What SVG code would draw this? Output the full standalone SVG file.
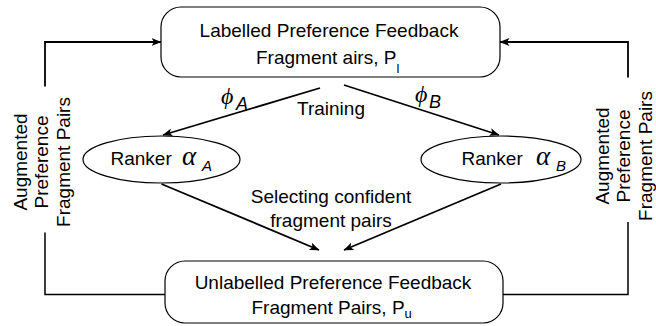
<svg xmlns="http://www.w3.org/2000/svg" width="656" height="326" viewBox="0 0 656 326">
<defs>
<marker id="arr" viewBox="0 0 10 8" refX="9.5" refY="4" markerWidth="10" markerHeight="8" markerUnits="userSpaceOnUse" orient="auto">
<path d="M0,0 L10,4 L0,8 L2.5,4 z" fill="#000"/>
</marker>
<style>
.box{fill:#fff;stroke:#000;stroke-width:1.2}
.t{font-family:"Liberation Sans",Arial,sans-serif;font-size:19px;fill:#000}
.g{font-family:"Liberation Serif","DejaVu Serif",serif;font-style:italic;fill:#000}
.s{font-family:"Liberation Sans",Arial,sans-serif;font-style:italic;fill:#000}
.c{fill:none;stroke:#000;stroke-width:1.5}
.a{fill:none;stroke:#000;stroke-width:1.8;marker-end:url(#arr)}
</style>
</defs>
<rect width="656" height="326" fill="#fff"/>
<g id="connectors">
<polyline class="c" points="165,294.5 45,294.5 45,232.5"/>
<polyline class="a" points="45,86.5 45,42 161,42"/>
<polyline class="c" points="503,294.5 628,294.5 628,222"/>
<polyline class="a" points="628,77.5 628,42 500,42"/>
<line class="a" x1="320" y1="88" x2="163" y2="135"/>
<line class="a" x1="344" y1="85" x2="499" y2="135"/>
<line class="a" x1="161.5" y1="184" x2="319" y2="250"/>
<line class="a" x1="501" y1="184" x2="344" y2="250"/>
</g>
<g id="labels">
<text class="t" text-anchor="middle" transform="translate(0,162) rotate(-90)"><tspan x="0" y="26.5">Augmented</tspan><tspan x="0" y="48">Preference</tspan><tspan x="0" y="69.5">Fragment Pairs</tspan></text>
<text class="t" text-anchor="middle" transform="translate(0,156) rotate(-90)"><tspan x="0" y="609">Augmented</tspan><tspan x="0" y="630">Preference</tspan><tspan x="0" y="651.5">Fragment Pairs</tspan></text>
<text class="g" x="221" y="104" font-size="24">ϕ</text><text class="s" x="236" y="110" font-size="18">A</text>
<text class="t" x="331" y="114.5" text-anchor="middle">Training</text>
<text class="g" x="415" y="102" font-size="24">ϕ</text><text class="s" x="429" y="108" font-size="18">B</text>
<text class="t" x="331" y="203" text-anchor="middle">Selecting confident</text>
<text class="t" x="331" y="226.5" text-anchor="middle">fragment pairs</text>
</g>
<g id="top">
<rect class="box" x="161" y="7" width="339" height="70" rx="20" ry="20"/>
<text class="t" x="329" y="37.3" text-anchor="middle">Labelled Preference Feedback</text>
<text class="t" x="256" y="64">Fragment airs, P<tspan font-size="13" dy="9">l</tspan></text>
</g>
<g id="rankerA">
<ellipse class="box" cx="161.5" cy="159.5" rx="78.5" ry="23.5"/>
<text class="t" x="110.5" y="164.5">Ranker</text>
<text class="g" x="182" y="165" font-size="27">α</text><text class="s" x="202" y="171" font-size="15">A</text>
</g>
<g id="rankerB">
<ellipse class="box" cx="501" cy="159.5" rx="80" ry="23.5"/>
<text class="t" x="461.5" y="164.5">Ranker</text>
<text class="g" x="536" y="165" font-size="27">α</text><text class="s" x="556" y="170.5" font-size="15">B</text>
</g>
<g id="bottom">
<rect class="box" x="165" y="261" width="338" height="62" rx="20" ry="20"/>
<text class="t" x="333" y="289.3" text-anchor="middle">Unlabelled Preference Feedback</text>
<text class="t" x="251.5" y="314">Fragment Pairs, P<tspan font-size="13" dy="4">u</tspan></text>
</g>
</svg>
